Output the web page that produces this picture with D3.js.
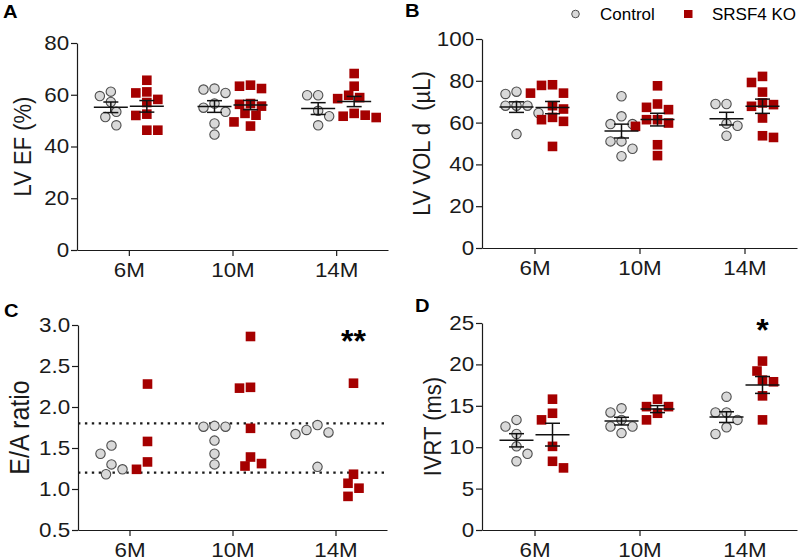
<!DOCTYPE html>
<html>
<head>
<meta charset="utf-8">
<script src="https://cdn.jsdelivr.net/npm/d3@7"></script>
<style>
	body { margin: 0; background: #fff; }
	svg { font-family: "Liberation Sans", Arial, sans-serif; }
	.axis path, .axis line { stroke: #1a1a1a; stroke-width: 1.2; }
	.axis text { fill: #1a1a1a; }
</style>
</head>
<body>
<svg id="chart" width="800" height="560"></svg>
<script>
const months = ['6M', '10M', '14M']
const groups = ['Control', 'SRSF4 KO']

// A: LV EF (%)
const efControl = [
	[61.2, 59.5, 57.2, 53.4, 51.4, 48.2],
	[62.4, 60.7, 62.0, 55.0, 53.4, 56.6, 48.9, 44.6],
	[59.8, 59.8, 53.8, 51.7, 48.2]
]
const efKO = [
	[65.6, 61.1, 60.7, 58.2, 57.0, 52.5, 52.0, 46.3, 46.3],
	[63.7, 62.4, 63.3, 56.3, 56.6, 55.6, 52.1, 52.8, 49.5, 47.9],
	[68.2, 63.3, 59.8, 58.9, 58.5, 52.1, 51.2, 51.7, 52.8]
]
const efTicks = [0, 20, 40, 60, 80]

// B: LV VOL d (µL)
const volControl = [
	[73.7, 74.8, 68.1, 68.1, 68.1, 64.6, 54.5],
	[72.6, 63.0, 59.3, 59.3, 51.0, 51.0, 47.5, 43.9],
	[68.9, 68.9, 59.5, 58.5, 53.7]
]
const volKO = [
	[78.1, 74.1, 74.1, 77.8, 66.5, 68.1, 61.4, 60.6, 62.5, 48.6],
	[77.6, 68.9, 66.2, 67.3, 61.4, 59.8, 58.2, 61.4, 49.4, 44.2],
	[82.1, 79.2, 74.6, 68.6, 67.8, 69.4, 62.2, 52.9, 53.7]
]
const volTicks = [0, 20, 40, 60, 80, 100]

// C: E/A ratio
const eaControl = [
	[1.53, 1.30, 1.43, 1.18, 1.24],
	[1.77, 1.76, 1.76, 1.59, 1.43, 1.30],
	[1.78, 1.69, 1.67, 1.72, 1.27]
]
const eaKO = [
	[2.28, 1.58, 1.33, 1.24],
	[2.86, 2.23, 2.24, 1.74, 1.39, 1.28, 1.31],
	[2.29, 1.18, 1.07, 1.01, 0.91]
]
const eaTicks = [0.5, 1.0, 1.5, 2.0, 2.5, 3.0]
const eaRefLines = [1.2, 1.8]

// D: IVRT (ms)
const ivrtControl = [
	[13.3, 12.5, 11.6, 10.1, 8.3, 9.2],
	[14.2, 14.7, 13.3, 12.5, 12.5, 11.7],
	[16.1, 14.2, 14.2, 13.3, 11.6, 12.4]
]
const ivrtKO = [
	[15.8, 13.3, 14.1, 10.1, 8.3, 7.5],
	[14.9, 14.9, 15.8, 14.1, 13.3],
	[20.4, 19.2, 18.1, 17.9, 16.2, 13.3]
]
const ivrtTicks = [0, 5, 10, 15, 20, 25]

const svg = d3.select('#chart')
const red = '#a50000'
const stretch = 1.12 // the original type is a bit wide

const panels = [
	{ letter: 'A', lx: 3, ly: 18, x0: 77, x1: 388, yTop: 43, yBot: 250,
		title: 'LV EF (%)', tx: 31, tSize: 22,
		ctrl: efControl, ko: efKO, ticks: efTicks, fmt: d3.format('d'), means: true },
	{ letter: 'B', lx: 405, ly: 17, x0: 482, x1: 797, yTop: 39, yBot: 248,
		title: 'LV VOL d  (µL)', tx: 430, tSize: 22,
		ctrl: volControl, ko: volKO, ticks: volTicks, fmt: d3.format('d'), means: true },
	{ letter: 'C', lx: 4, ly: 317, x0: 78, x1: 387, yTop: 325, yBot: 530,
		title: 'E/A ratio', tx: 29, tSize: 25,
		ctrl: eaControl, ko: eaKO, ticks: eaTicks, fmt: d3.format('.1f'), means: false,
		refs: eaRefLines, star: '**', starY: 352 },
	{ letter: 'D', lx: 415, ly: 312, x0: 482, x1: 797, yTop: 323, yBot: 530,
		title: 'IVRT (ms)', tx: 441, tSize: 22,
		ctrl: ivrtControl, ko: ivrtKO, ticks: ivrtTicks, fmt: d3.format('d'), means: true,
		star: '*', starY: 341 }
]

// simple beeswarm: spread points that would overlap
const swarm = (values, y, dist, step) => {
	const order = values.map((v, i) => i).sort((a, b) => values[b] - values[a])
	const placed = []
	const off = new Array(values.length)
	let side = -1
	order.forEach(i => {
		const py = y(values[i])
		const cands = [0]
		for (let j = 1; j <= 10; j++) cands.push(side * j * step, -side * j * step)
		const c = cands.find(c => placed.every(p => Math.hypot(p.x - c, p.y - py) >= dist))
		if (c !== 0) side = c > 0 ? -1 : 1
		off[i] = c
		placed.push({ x: c, y: py })
	})
	return off
}

const drawPanel = p => {
	const g = svg.append('g')
	const y = d3.scaleLinear()
		.domain([p.ticks[0], p.ticks[p.ticks.length - 1]])
		.range([p.yBot, p.yTop])
	const x = d3.scalePoint()
		.domain(months)
		.range([p.x0, p.x1])
		.padding(0.5)
	const gx = d3.scalePoint()
		.domain(groups)
		.range([-18, 18])

	g.append('text')
		.attr('x', p.lx)
		.attr('y', p.ly)
		.attr('font-size', 18)
		.attr('font-weight', 'bold')
		.attr('transform', 'translate(' + p.lx + ',0) scale(' + stretch + ',1) translate(' + (-p.lx) + ',0)')
		.text(p.letter)

	if (p.refs) {
		g.selectAll('.ref')
			.data(p.refs)
			.enter()
			.append('line')
			.attr('x1', p.x0)
			.attr('x2', p.x1)
			.attr('y1', d => y(d))
			.attr('y2', d => y(d))
			.style('stroke', '#1a1a1a')
			.style('stroke-width', 2.4)
			.style('stroke-dasharray', '2.4,4.5')
	}

	g.append('g')
		.attr('class', 'axis')
		.attr('transform', 'translate(' + p.x0 + ',0)')
		.call(d3.axisLeft(y).tickValues(p.ticks).tickFormat(p.fmt)
			.tickSize(6).tickSizeOuter(0).tickPadding(1))
		.selectAll('text')
		.attr('font-size', 20)
		.attr('transform', 'scale(' + stretch + ',1)')

	g.append('g')
		.attr('class', 'axis')
		.attr('transform', 'translate(0,' + p.yBot + ')')
		.call(d3.axisBottom(x).tickSize(6).tickSizeOuter(0).tickPadding(7))
		.selectAll('text')
		.attr('font-size', 20)
		.attr('transform', 'scale(' + stretch + ',1)')

	g.append('text')
		.attr('transform', 'translate(' + p.tx + ',' + (p.yTop + p.yBot) / 2 + ') rotate(-90) scale(1,' + stretch + ')')
		.attr('text-anchor', 'middle')
		.attr('font-size', p.tSize)
		.attr('fill', '#1a1a1a')
		.style('white-space', 'pre')
		.text(p.title)

	const sets = [p.ctrl, p.ko]
	sets.forEach((set, gi) => {
		set.forEach((vals, mi) => {
			const cx = x(months[mi]) + gx(groups[gi])
			const offs = swarm(vals, y, 10.3, 5.5)
			const pts = vals.map((v, i) => ({ v, x: cx + offs[i], y: y(v) }))
			if (gi === 0) {
				g.selectAll(null)
					.data(pts)
					.enter()
					.append('circle')
					.attr('cx', d => d.x)
					.attr('cy', d => d.y)
					.attr('r', 4.7)
					.style('fill', '#d9d9d9')
					.style('stroke', '#4d4d4d')
					.style('stroke-width', 1.1)
			} else {
				g.selectAll(null)
					.data(pts)
					.enter()
					.append('rect')
					.attr('x', d => d.x - 4.8)
					.attr('y', d => d.y - 4.8)
					.attr('width', 9.6)
					.attr('height', 9.6)
					.style('fill', red)
			}
		})
	})

	if (p.means) {
		sets.forEach((set, gi) => {
			set.forEach((vals, mi) => {
				const cx = x(months[mi]) + gx(groups[gi])
				const m = d3.mean(vals)
				const sem = d3.deviation(vals) / Math.sqrt(vals.length)
				const eb = g.append('g').style('stroke', '#111').style('stroke-width', 1.5)
				eb.append('line').attr('x1', cx - 17).attr('x2', cx + 17).attr('y1', y(m)).attr('y2', y(m))
				eb.append('line').attr('x1', cx).attr('x2', cx).attr('y1', y(m - sem)).attr('y2', y(m + sem))
				;[m - sem, m + sem].forEach(v => {
					eb.append('line').attr('x1', cx - 7.5).attr('x2', cx + 7.5).attr('y1', y(v)).attr('y2', y(v))
				})
			})
		})
	}

	if (p.star) {
		const last = months.length - 1
		g.append('text')
			.attr('x', x(months[last]) + gx(groups[1]))
			.attr('y', p.starY)
			.attr('text-anchor', 'middle')
			.attr('font-size', 32)
			.attr('font-weight', 'bold')
			.text(p.star)
	}
}

panels.forEach(drawPanel)

// legend
const legend = svg.append('g')
legend.append('circle')
	.attr('cx', 575.5)
	.attr('cy', 14)
	.attr('r', 3.8)
	.style('fill', '#d9d9d9')
	.style('stroke', '#4d4d4d')
	.style('stroke-width', 1)
legend.append('text')
	.attr('x', 600)
	.attr('y', 19.5)
	.attr('font-size', 17)
	.text(groups[0])
legend.append('rect')
	.attr('x', 684)
	.attr('y', 10)
	.attr('width', 8.5)
	.attr('height', 8)
	.style('fill', red)
legend.append('text')
	.attr('x', 712)
	.attr('y', 19.5)
	.attr('font-size', 17)
	.text(groups[1])
</script>
</body>
</html>
